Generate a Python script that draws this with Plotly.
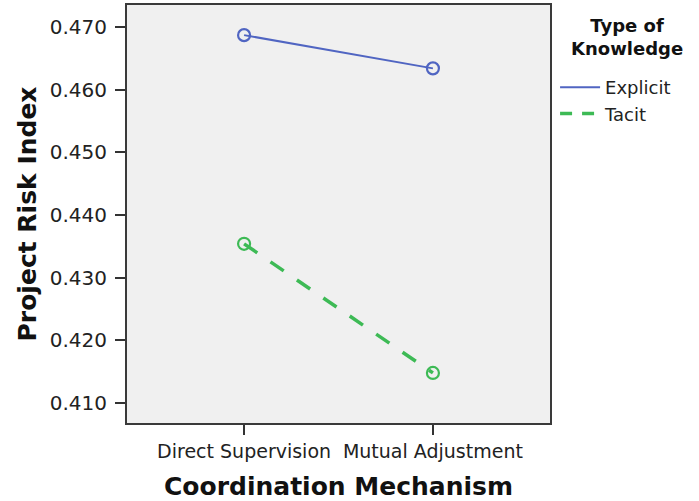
import plotly.graph_objects as go

categories = ["Direct Supervision", "Mutual Adjustment"]
explicit_values = [0.4687, 0.4634]
tacit_values = [0.4354, 0.4148]
y_tick_values = [0.410, 0.420, 0.430, 0.440, 0.450, 0.460, 0.470]
y_tick_labels = ["0.410", "0.420", "0.430", "0.440", "0.450", "0.460", "0.470"]
series_names = ["Explicit", "Tacit"]
legend_title = "Type of<br>Knowledge"

BLUE = "#5065c2"
GREEN = "#3dba55"
FONT = "DejaVu Sans"

explicit_line = dict(color=BLUE, width=2)
tacit_line = dict(color=GREEN, width=3.5, dash="16px,16px")

fig = go.Figure()
# data traces (markers + lines), hidden from legend
fig.add_trace(go.Scatter(
    x=[0, 1], y=explicit_values, name=series_names[0], mode="lines+markers",
    line=explicit_line, showlegend=False,
    marker=dict(symbol="circle-open", size=12, color=BLUE, line=dict(width=2.2, color=BLUE)),
))
fig.add_trace(go.Scatter(
    x=[0, 1], y=tacit_values, name=series_names[1], mode="lines+markers",
    line=tacit_line, showlegend=False,
    marker=dict(symbol="circle-open", size=12, color=GREEN, line=dict(width=2.2, color=GREEN)),
))
# legend-only line entries
fig.add_trace(go.Scatter(x=[None], y=[None], name=series_names[0], mode="lines", line=explicit_line))
fig.add_trace(go.Scatter(x=[None], y=[None], name=series_names[1], mode="lines",
                         line=dict(color=GREEN, width=3.5, dash="12px,10px")))

fig.update_layout(
    width=699, height=501,
    margin=dict(l=127, r=149, t=5, b=78),
    paper_bgcolor="white",
    plot_bgcolor="#f0f0f0",
    font=dict(family=FONT, color="#222222"),
    showlegend=True,
    legend=dict(
        x=1.012, xanchor="left", y=0.847, yanchor="top",
        bgcolor="rgba(0,0,0,0)",
        font=dict(family=FONT, size=18, color="#222222"),
        itemwidth=40, tracegroupgap=0,
    ),
)
fig.add_annotation(
    text="<b>" + legend_title + "</b>", xref="paper", yref="paper",
    x=1.182, y=1 - 32.5 / 418, xanchor="center", yanchor="middle", align="center",
    showarrow=False, font=dict(family=FONT, size=18, color="#111111"),
)

fig.update_xaxes(
    range=[-0.62, 1.62], automargin=False,
    tickmode="array", tickvals=[0, 1], ticktext=categories,
    ticks="outside", ticklen=10, tickwidth=2, tickcolor="#333333",
    tickfont=dict(family=FONT, size=19, color="#222222"),
    showline=True, linecolor="#3a3a3a", linewidth=2, mirror=True,
    showgrid=False, zeroline=False,
    title=dict(text="<b>Coordination Mechanism</b>", font=dict(family=FONT, size=25, color="#111111"), standoff=18),
)
fig.update_yaxes(
    range=[0.40681, 0.47351], automargin=False,
    tickmode="array", tickvals=y_tick_values, ticktext=y_tick_labels,
    ticks="outside", ticklen=10, tickwidth=2, tickcolor="#333333",
    tickfont=dict(family=FONT, size=20, color="#222222"),
    ticklabelstandoff=4,
    showline=True, linecolor="#3a3a3a", linewidth=2, mirror=True,
    showgrid=False, zeroline=False,
    title=dict(text="<b>Project Risk Index</b>", font=dict(family=FONT, size=25, color="#111111"), standoff=6),
)

fig.write_html("out.html", config={"displayModeBar": False},
               post_script="document.body.style.margin='0px';")
